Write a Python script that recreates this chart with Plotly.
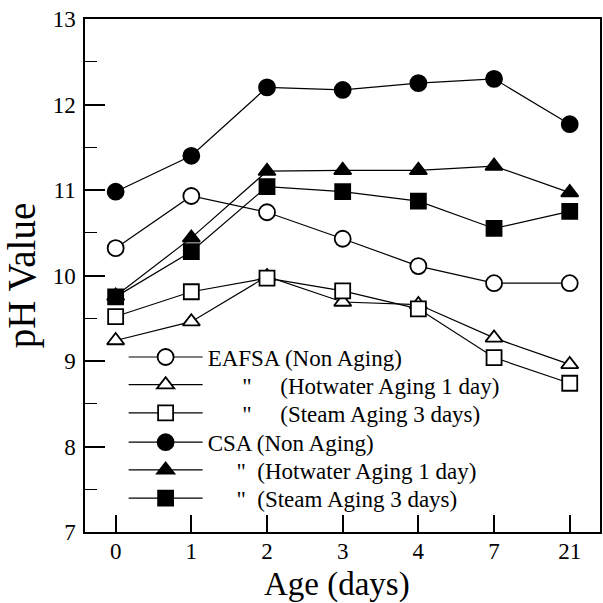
import plotly.graph_objects as go

ages = ["0", "1", "2", "3", "4", "7", "21"]
eafsa_non = [10.32, 10.93, 10.74, 10.43, 10.11, 9.91, 9.91]
eafsa_hot = [9.24, 9.46, 9.99, 9.69, 9.66, 9.27, 8.96]
eafsa_steam = [9.52, 9.81, 9.97, 9.82, 9.61, 9.04, 8.74]
csa_non = [10.98, 11.40, 12.20, 12.17, 12.25, 12.30, 11.77]
csa_hot = [9.76, 10.44, 11.22, 11.23, 11.23, 11.28, 10.97]
csa_steam = [9.75, 10.28, 11.04, 10.98, 10.87, 10.55, 10.75]

nb = "\u00a0"
names = [
    "EAFSA (Non Aging)",
    nb * 6 + '"' + nb * 5 + "(Hotwater Aging 1 day)",
    nb * 6 + '"' + nb * 5 + "(Steam Aging 3 days)",
    "CSA (Non Aging)",
    nb * 5 + '"' + nb * 2 + "(Hotwater Aging 1 day)",
    nb * 5 + '"' + nb * 2 + "(Steam Aging 3 days)",
]
series = [eafsa_non, eafsa_hot, eafsa_steam, csa_non, csa_hot, csa_steam]
symbols = ["circle", "triangle-up", "square", "circle", "triangle-up", "square"]
fills = ["white", "white", "white", "black", "black", "black"]
sizes = [16, 15, 15, 16, 15, 15]
legend_ids = ["legend", "legend2", "legend3", "legend4", "legend5", "legend6"]
legend_rows = [0.341, 0.287, 0.232, 0.175, 0.121, 0.066]

font_family = "Liberation Serif, Times New Roman, serif"

fig = go.Figure()
for name, ys, sym, fill, sz, lid in zip(names, series, symbols, fills, sizes, legend_ids):
    fig.add_trace(go.Scatter(
        x=ages, y=ys, name=name, mode="lines+markers",
        line=dict(color="black", width=1.2),
        marker=dict(symbol=sym, size=sz, color=fill,
                    line=dict(color="black", width=1.8)),
        legend=lid,
    ))

legend_layout = {}
for lid, ly in zip(legend_ids, legend_rows):
    legend_layout[lid] = dict(
        x=0.075, y=ly, xanchor="left", yanchor="middle",
        bgcolor="rgba(0,0,0,0)", borderwidth=0,
        font=dict(family=font_family, size=23, color="black"),
        itemwidth=74,
    )

fig.update_layout(
    width=603, height=603,
    margin=dict(l=85, r=1, t=19, b=71),
    paper_bgcolor="white", plot_bgcolor="white",
    font=dict(family=font_family, color="black", size=23),
    showlegend=True,
    xaxis=dict(
        type="category", range=[-0.405, 6.40],
        showline=True, linecolor="black", linewidth=1.5, mirror=True,
        ticks="inside", ticklen=17, tickwidth=1.5, tickcolor="black",
        ticklabelstandoff=-2,
        showgrid=False, zeroline=False,
        tickfont=dict(family=font_family, size=23),
    ),
    yaxis=dict(
        range=[7, 13], dtick=1, tick0=7,
        showline=True, linecolor="black", linewidth=1.5, mirror=True,
        ticks="inside", ticklen=20, tickwidth=1.5, tickcolor="black",
        ticklabelstandoff=3,
        minor=dict(dtick=0.5, ticks="inside", ticklen=12, tickwidth=1.2, tickcolor="black"),
        showgrid=False, zeroline=False,
        tickfont=dict(family=font_family, size=23),
        title=dict(text="pH Value", font=dict(family=font_family, size=39), standoff=8),
    ),
    annotations=[dict(
        text="Age (days)", xref="paper", yref="paper", x=0.489, y=-0.1014,
        xanchor="center", yanchor="middle", showarrow=False,
        font=dict(family=font_family, size=33, color="black"),
    )],
    **legend_layout,
)

fig.write_html("out.html")
